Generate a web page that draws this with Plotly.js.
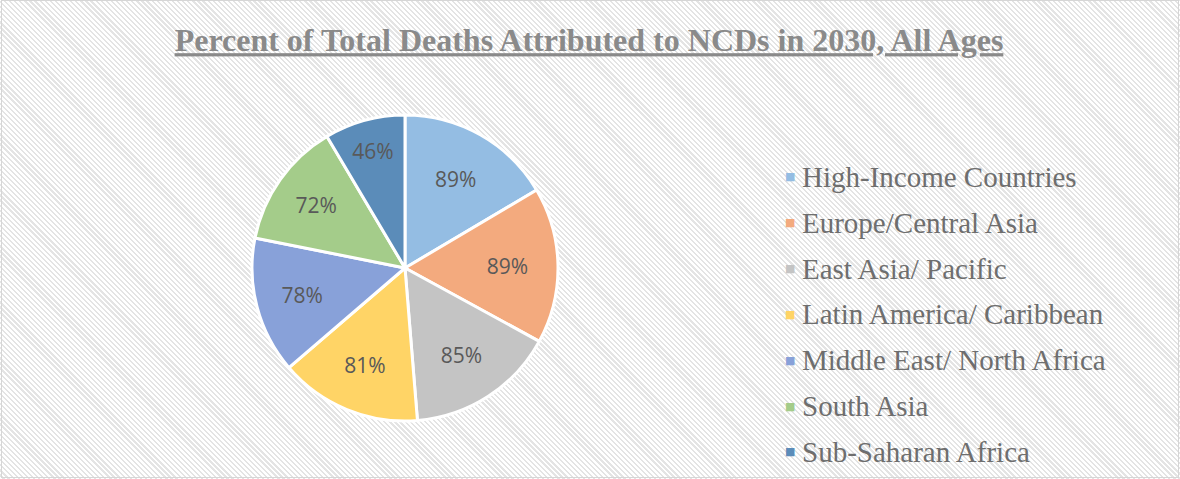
<!DOCTYPE html>
<html>
<head>
<meta charset="utf-8">
<script src="https://cdn.plot.ly/plotly-3.0.1.min.js"></script>
<style>
  html, body { margin: 0; padding: 0; }
  body {
    width: 1180px; height: 479px; overflow: hidden;
    background: repeating-linear-gradient(45deg, #ffffff 0px, #ffffff 2px, #e4e4e4 2px, #e4e4e4 3.6px);
  }
  #frame { position: absolute; left: 1px; top: 0px; width: 1176px; height: 476px; border: 1px solid #d6d6d6; pointer-events: none; }
  #chart { position: absolute; left: 0; top: 0; width: 1180px; height: 479px; }
</style>
</head>
<body>
<div id="chart"></div>
<div id="frame"></div>
<script>
const regions = ["High-Income Countries", "Europe/Central Asia", "East Asia/ Pacific", "Latin America/ Caribbean", "Middle East/ North Africa", "South Asia", "Sub-Saharan Africa"];
const ncdPercent = [89, 89, 85, 81, 78, 72, 46];
const sliceColors = ["#94bde3", "#f3aa7e", "#c4c4c4", "#ffd466", "#88a1d9", "#a4cc8a", "#5b8cb9"];
const titleText = "Percent of Total Deaths Attributed to NCDs in 2030, All Ages";

const W = 1180, H = 479;
const cx = 405, cy = 268, R = 153;

const trace = {
  type: "pie",
  labels: regions,
  values: ncdPercent,
  sort: false,
  direction: "clockwise",
  rotation: 0,
  marker: { colors: sliceColors, line: { color: "#ffffff", width: 3 } },
  texttemplate: "%{value}%",
  textposition: "inside",
  insidetextorientation: "horizontal",
  textfont: { family: "Open Sans, sans-serif", size: 21, color: "#595959" },
  hoverinfo: "label+value",
  showlegend: false,
  domain: { x: [(cx - R) / W, (cx + R) / W], y: [1 - (cy + R) / H, 1 - (cy - R) / H] }
};

const annotations = [];
const legX = 802, legY0 = 177, legStep = 45.8;
regions.forEach((r, i) => {
  const y = 1 - (legY0 + i * legStep) / H;
  annotations.push({
    xref: "paper", yref: "paper", x: 783 / W, y: y, xanchor: "left", yanchor: "middle",
    text: "■", showarrow: false, font: { family: "DejaVu Sans", size: 11, color: sliceColors[i] }
  });
  annotations.push({
    xref: "paper", yref: "paper", x: (legX - 2) / W, y: y, xanchor: "left", yanchor: "middle",
    text: r, showarrow: false, font: { family: "Liberation Serif, Times New Roman, serif", size: 29, color: "#6e6e6e" }
  });
});

const layout = {
  width: W, height: H,
  margin: { l: 0, r: 0, t: 0, b: 0 },
  paper_bgcolor: "rgba(0,0,0,0)",
  plot_bgcolor: "rgba(0,0,0,0)",
  title: {
    text: titleText,
    x: 589 / W, xanchor: "center", xref: "container",
    y: 1 - 40 / H, yanchor: "middle", yref: "container",
    font: { family: "Liberation Serif, Times New Roman, serif", size: 32, weight: "bold", color: "#8a8a8a", lineposition: "under" }
  },
  annotations: annotations
};

Plotly.newPlot("chart", [trace], layout, { displayModeBar: false, staticPlot: true });
</script>
</body>
</html>
